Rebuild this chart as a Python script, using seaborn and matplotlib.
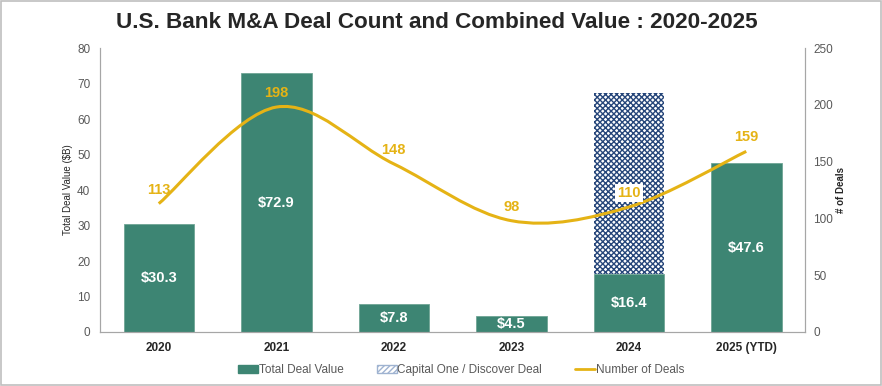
import numpy as np
import pandas as pd
import matplotlib.pyplot as plt
import seaborn as sns
from matplotlib.path import Path
from matplotlib.patches import PathPatch, Patch, Rectangle
from matplotlib.lines import Line2D

# values
years = ["2020", "2021", "2022", "2023", "2024", "2025 (YTD)"]
deal_value = [30.3, 72.9, 7.8, 4.5, 16.4, 47.6]
cof_year = "2024"
cof_value = 50.8
deal_count = [113, 198, 148, 98, 110, 159]

green = "#3d8573"
navy = "#26467a"
gold = "#e5b315"
grey_txt = "#595959"

sns.set_style("white")
plt.rcParams["font.family"] = ["Liberation Sans", "DejaVu Sans"]
plt.rcParams["hatch.linewidth"] = 1.0

df = pd.DataFrame({"Year": years, "Value": deal_value})

fig = plt.figure(figsize=(8.82, 3.86), dpi=100)
ax = fig.add_axes([0.1134, 0.1399, 0.7993, 0.7357])

sns.barplot(data=df, x="Year", y="Value", color=green, width=0.6,
            saturation=1, ax=ax, zorder=2)
for b in ax.containers[0]:
    b.set_edgecolor("#6fa595")
    b.set_linewidth(0.6)

# Capital One / Discover segment stacked on 2024
i24 = years.index(cof_year)
ax.bar(i24, cof_value, bottom=deal_value[i24], width=0.6, color="white",
       edgecolor=navy, hatch="xxxxxx", linewidth=0, zorder=2)

ax.bar_label(ax.containers[0], labels=[f"${v:.1f}" for v in deal_value],
             label_type="center", color="white", fontsize=10.5,
             fontweight="bold")

ax.set_ylim(0, 80)
ax.set_yticks(range(0, 81, 10))
ax.set_xlim(-0.5, len(years) - 0.5)
ax.set_xlabel("")
ax.set_ylabel("Total Deal Value ($B)", fontsize=7, color="#262626", labelpad=3)
ax.tick_params(axis="y", length=0, labelsize=8.5, labelcolor=grey_txt, pad=7)
ax.tick_params(axis="x", length=0, labelsize=8.5, pad=7)
for t in ax.get_xticklabels():
    t.set_fontweight("bold")
for s in ["left", "bottom", "right"]:
    ax.spines[s].set_color("#a6a6a6")
    ax.spines[s].set_linewidth(0.8)
ax.spines["top"].set_visible(False)

# number of deals on secondary axis, smoothed like Excel
ax2 = ax.twinx()
ax2.set_ylim(0, 250)
ax2.set_yticks(range(0, 251, 50))
x = np.arange(len(years), dtype=float)
y = np.array(deal_count, dtype=float)
verts = [(x[0], y[0])]
codes = [Path.MOVETO]
for k in range(len(x) - 1):
    p0 = k - 1 if k > 0 else k
    p3 = k + 2 if k + 2 < len(x) else k + 1
    c1 = (x[k] + (x[k + 1] - x[p0]) / 6, y[k] + (y[k + 1] - y[p0]) / 6)
    c2 = (x[k + 1] - (x[p3] - x[k]) / 6, y[k + 1] - (y[p3] - y[k]) / 6)
    verts += [c1, c2, (x[k + 1], y[k + 1])]
    codes += [Path.CURVE4] * 3
ax2.add_patch(PathPatch(Path(verts, codes), facecolor="none", edgecolor=gold,
                        linewidth=2.2, zorder=3))
for k, v in enumerate(deal_count):
    box = dict(facecolor="white", edgecolor="none", pad=1.5) if k == i24 else None
    ax2.annotate(str(v), (k, v), xytext=(0, 10), textcoords="offset points",
                 ha="center", va="center", color=gold, fontsize=10.5,
                 fontweight="bold", bbox=box, zorder=4)
ax2.set_ylabel("# of Deals", fontsize=7, fontweight="bold", color="#262626",
               labelpad=2)
ax2.tick_params(axis="y", length=0, labelsize=8.5, labelcolor=grey_txt, pad=6)
for s in ["left", "bottom", "right"]:
    ax2.spines[s].set_color("#a6a6a6")
    ax2.spines[s].set_linewidth(0.8)
ax2.spines["top"].set_visible(False)
ax2.grid(False)
ax.grid(False)

fig.suptitle("U.S. Bank M&A Deal Count and Combined Value : 2020-2025",
             x=0.495, y=0.97, fontsize=16.2, fontweight="bold", va="top")

handles = [Patch(facecolor=green, edgecolor=green),
           Patch(facecolor="white", edgecolor="#9fb3d1", hatch="//////"),
           Line2D([0], [0], color=gold, linewidth=2)]
labels = ["Total Deal Value", "Capital One / Discover Deal", "Number of Deals"]
fig.legend(handles, labels, loc="center", bbox_to_anchor=(0.523, 0.041), ncol=3,
           frameon=False, fontsize=8.5, labelcolor=grey_txt, handlelength=1.7,
           handletextpad=0.05, columnspacing=2.8, handleheight=0.6)

fig.patches.append(Rectangle((0.001, 0.003), 0.998, 0.995, transform=fig.transFigure,
                             fill=False, edgecolor="#bfbfbf", linewidth=1.2))

fig.savefig("out.png", dpi=100)
